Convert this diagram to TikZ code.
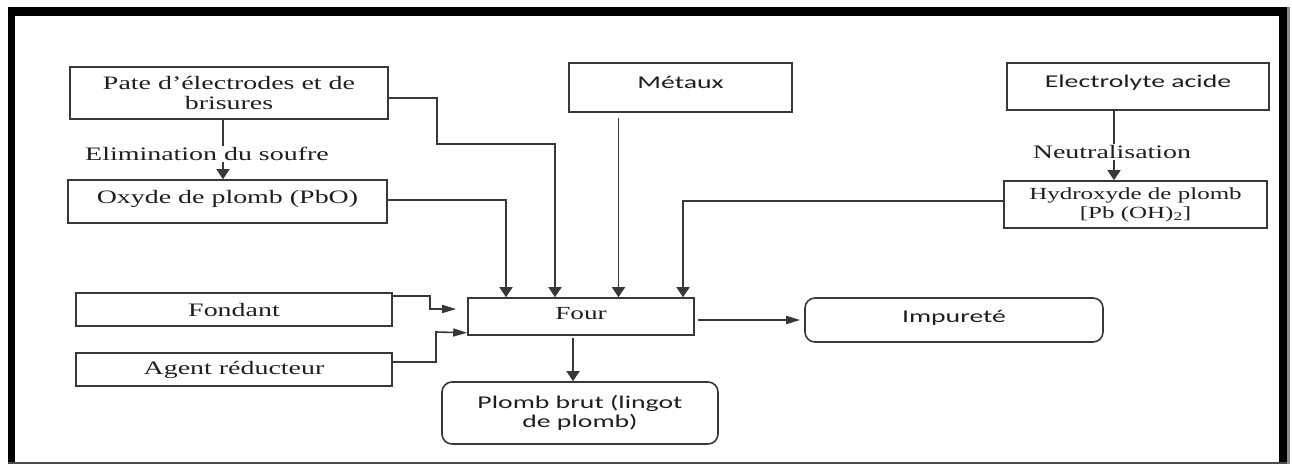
\documentclass[tikz,border=0pt]{standalone}
\usepackage{fontspec}
\usetikzlibrary{arrows.meta}
% wide-set faces used throughout the flow chart
\newfontfamily\serifw[FakeStretch=1.47]{Liberation Serif}
\newfontfamily\sansw[FakeStretch=1.54]{Carlito}
\begin{document}
\begin{tikzpicture}[x=1pt,y=-1pt,
  box/.style={draw=black!78, line width=1.6pt, inner sep=0pt, align=center, text=black!88},
  rbox/.style={box, rounded corners=10pt},
  ser/.style={font=\serifw\fontsize{19}{20}\selectfont},
  sersm/.style={font=\serifw\fontsize{17}{19}\selectfont},
  san/.style={font=\sansw\fontsize{18}{19}\selectfont},
  link/.style={draw=black!78, line width=1.6pt},
  varr/.style={link, -{Triangle[length=10pt,width=13pt]}},
  harr/.style={link, -{Triangle[length=14pt,width=8pt]}},
  note/.style={ser, fill=white, inner sep=1pt, text=black!88},
  lift/.style={text height=#1, text depth=0pt}
]
\useasboundingbox (0,0) rectangle (1292,464);

% page frame
\fill[black] (8,7) rectangle (1287,16);
\fill[black] (8,7) rectangle (15,464);
\fill[black] (1279,7) rectangle (1287,464);
\fill[black!45] (1287,7) rectangle (1290,464);
\draw[black!70, line width=1.2pt] (8,463) -- (1287,463);

% boxes
\node[box,ser,minimum width=318pt,minimum height=52pt] (pate) at (229,93)
  {Pate d’électrodes et de\\brisures};
\node[box,ser,minimum width=319pt,minimum height=43pt,lift=3pt] (oxyde) at (227.5,201.5)
  {Oxyde de plomb (PbO)};
\node[box,san,minimum width=223pt,minimum height=49pt,lift=1pt] (metaux) at (680.5,87.5)
  {Métaux};
\node[box,san,minimum width=262pt,minimum height=47pt,lift=1pt] (electro) at (1138,86.5)
  {Electrolyte acide};
\node[box,sersm,minimum width=263pt,minimum height=47pt] (hydro) at (1135.5,204.5)
  {Hydroxyde de plomb\\{[}Pb (OH)\textsubscript{2}]};
\node[box,ser,minimum width=316pt,minimum height=33pt] (fondant) at (234,309.5)
  {Fondant};
\node[box,ser,minimum width=316pt,minimum height=33pt] (agent) at (234,369.5)
  {Agent réducteur};
\node[box,ser,font=\serifw\fontsize{18.5}{20}\selectfont,minimum width=226pt,minimum height=37pt,lift=5pt] (four) at (581,316.5)
  {Four};
\node[rbox,san,minimum width=276pt,minimum height=62pt] (plomb) at (580,413)
  {Plomb brut (lingot\\de plomb)};
\node[rbox,san,minimum width=298pt,minimum height=44pt,lift=4pt] (impur) at (954,320)
  {Impureté};

% treatment steps
\draw[varr] ([xshift=-6pt]pate.south) -- ([xshift=-6pt]pate.south |- oxyde.north);
\node[note] (elim) at (207,154) {Elimination du soufre};
\draw[varr] ([xshift=-24pt]electro.south) -- ([xshift=-24pt]electro.south |- hydro.north);
\node[note] (neutr) at (1112,152) {Neutralisation};

% feeds into the furnace
\draw[varr] ([yshift=-5pt]pate.east) -| (437,144) -| ([xshift=-26pt]four.north);
\draw[varr] ([yshift=1.5pt]oxyde.east) -| ([xshift=-75pt]four.north);
\draw[varr] ([xshift=-62pt,yshift=-5pt]metaux.south) -- ([xshift=-62pt]metaux.south |- four.north);
\draw[varr] ([yshift=3.5pt]hydro.west) -| ([xshift=102pt]four.north);
\draw[harr] ([yshift=13.5pt]fondant.east) -| (430,309) -- ([xshift=-11pt,yshift=7.5pt]four.west);
\draw[harr] ([yshift=7.5pt]agent.east) -| (436,332) -- ([yshift=3pt]four.south west);

% furnace outputs
\draw[varr] ([xshift=-8pt,yshift=-2pt]four.south) -- ([xshift=-8pt]four.south |- plomb.north);
\draw[harr] ([xshift=3pt,yshift=-3.5pt]four.east) -- ([xshift=-4pt]impur.west);
\end{tikzpicture}
\end{document}
